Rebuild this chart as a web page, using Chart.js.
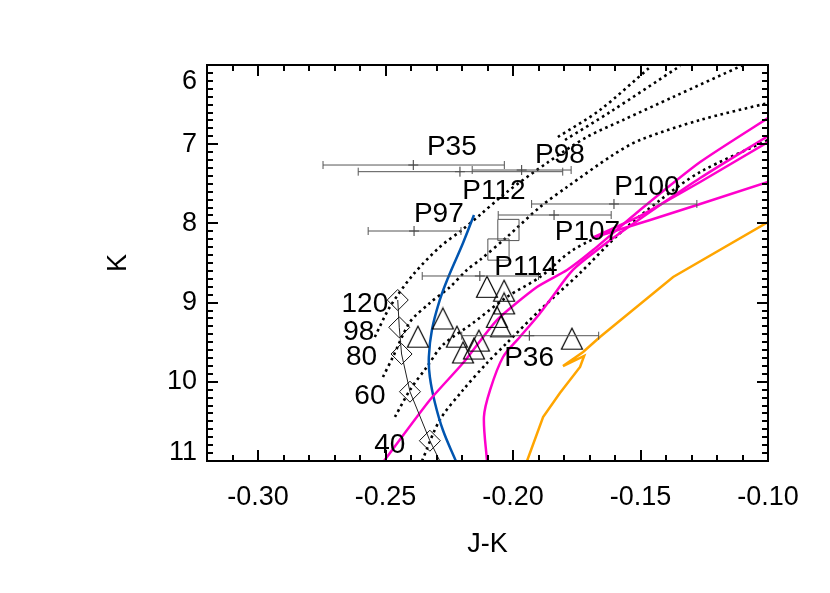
<!DOCTYPE html>
<html>
<head>
<meta charset="utf-8">
<script src="https://cdn.jsdelivr.net/npm/chart.js@4.4.1/dist/chart.umd.min.js"></script>
<style>
  html, body { margin: 0; padding: 0; background: #fff; }
  #wrap { width: 830px; height: 593px; }
</style>
</head>
<body>
<div id="wrap"><canvas id="cmd" width="830" height="593"></canvas></div>
<script>
// Axes
const xTicks = [-0.30, -0.25, -0.20, -0.15, -0.10];
const yTicks = [6, 7, 8, 9, 10, 11];

// Stars with J-K error bars
const starNames = ['P35', 'P112', 'P98', 'P97', 'P100', 'P107', 'P114', 'P36'];
const starJK   = [-0.2391, -0.2208, -0.1966, -0.2388, -0.1604, -0.1839, -0.2130, -0.1936];
const starK    = [7.263, 7.347, 7.326, 8.096, 7.755, 7.894, 8.664, 9.418];
const starJKlo = [-0.2745, -0.2607, -0.2160, -0.2568, -0.1927, -0.2058, -0.2356, -0.2201];
const starJKhi = [-0.2034, -0.1805, -0.1772, -0.2204, -0.1279, -0.1615, -0.1900, -0.1664];
// where the star names are written
const nameJK = [-0.2240, -0.2075, -0.1816, -0.2291, -0.1475, -0.1708, -0.1949, -0.1937];
const nameK  = [7.035, 7.591, 7.143, 7.881, 7.547, 8.115, 8.557, 9.699];

// Open triangles
const triJK = [-0.2102, -0.2035, -0.2035, -0.2063, -0.2047, -0.2275, -0.2373, -0.2220, -0.2196, -0.2134, -0.2153, -0.1769];
const triK  = [8.80, 8.85, 9.01, 9.18, 9.30, 9.20, 9.43, 9.43, 9.63, 9.48, 9.58, 9.455];

// Open squares
const sqJK = [-0.2018, -0.2057];
const sqK  = [8.083, 8.330];

// Mass track (diamonds)
const massNames = ['120', '98', '80', '60', '40'];
const massJK = [-0.2452, -0.2446, -0.2437, -0.2404, -0.2326];
const massK  = [8.967, 9.312, 9.649, 10.125, 10.744];
const massLabelJK = [-0.2581, -0.2605, -0.2594, -0.2561, -0.2483];
const massLabelK  = [9.018, 9.371, 9.693, 10.179, 10.798];
const trackJK = [-0.2452, -0.2446, -0.2437, -0.2404, -0.2326, -0.2287];
const trackK  = [8.967, 9.312, 9.649, 10.125, 10.744, 11.0];

// Dotted isochrones
const d1JK = [-0.2542, -0.2483, -0.2393, -0.2287, -0.2200, -0.2130, -0.2024, -0.1867, -0.1710, -0.1568, -0.1372, -0.1097];
const d1K  = [9.434, 9.056, 8.652, 8.298, 8.083, 7.894, 7.604, 7.237, 6.909, 6.694, 6.404, 6.0];
const d2JK = [-0.2510, -0.2471, -0.2404, -0.2326, -0.2247, -0.2181, -0.2130, -0.2024, -0.1894, -0.1788, -0.1608, -0.1502, -0.1266, -0.1000];
const d2K  = [9.939, 9.687, 9.245, 9.005, 8.803, 8.588, 8.462, 8.172, 7.793, 7.540, 7.136, 6.947, 6.694, 6.480];
const d3JK = [-0.2463, -0.2404, -0.2338, -0.2275, -0.2157, -0.2024, -0.1894, -0.1765, -0.1608];
const d3K  = [10.444, 10.104, 9.813, 9.535, 9.258, 8.929, 8.677, 8.336, 8.083];
const d4JK = [-0.2357, -0.2287, -0.2196, -0.2102, -0.2024, -0.1894, -0.1737, -0.1580, -0.1423, -0.1266, -0.1000];
const d4K  = [11.0, 10.482, 10.104, 9.763, 9.510, 9.093, 8.626, 8.121, 7.705, 7.351, 6.947];
const d5JK = [-0.1824, -0.1659, -0.1462];
const d5K  = [6.909, 6.568, 6.025];
const d6JK = [-0.1796, -0.1619, -0.1345];
const d6K  = [6.947, 6.593, 6.013];

// Blue track
const blueJK = [-0.2153, -0.2196, -0.2255, -0.2287, -0.2318, -0.2330, -0.2326, -0.2306, -0.2275, -0.2224];
const blueK  = [7.894, 8.247, 8.689, 8.967, 9.346, 9.687, 9.939, 10.268, 10.609, 11.0];

// Magenta tracks
const m1JK = [-0.2506, -0.2326, -0.2196, -0.2063, -0.1906, -0.1788, -0.1686, -0.1502, -0.1266, -0.1000];
const m1K  = [11.0, 10.230, 9.763, 9.220, 8.803, 8.588, 8.336, 7.831, 7.225, 6.669];
const m2JK = [-0.2102, -0.2114, -0.2090, -0.2039, -0.1973, -0.1906, -0.1855, -0.1765, -0.1670, -0.1580, -0.1423, -0.1266, -0.1000];
const m2K  = [11.0, 10.444, 10.104, 9.687, 9.434, 9.182, 8.967, 8.588, 8.336, 8.121, 7.768, 7.427, 6.896];
const m3JK = [-0.1000, -0.1266, -0.1502, -0.1690, -0.1462, -0.1266, -0.1000];
const m3K  = [6.972, 7.477, 7.907, 8.184, 7.957, 7.755, 7.477];

// Orange track
const orJK = [-0.1945, -0.1882, -0.1816, -0.1737, -0.1721, -0.1804, -0.1725, -0.1659, -0.1372, -0.1000];
const orK  = [11.0, 10.444, 10.141, 9.813, 9.674, 9.801, 9.624, 9.434, 8.677, 7.982];

const FONT = 'Liberation Sans, Arial, Helvetica, sans-serif';
const pts = (xs, ys) => xs.map((x, i) => ({ x: x, y: ys[i] }));

// open triangle a bit taller than an equilateral one
function triangleImage() {
    const c = document.createElement('canvas');
    c.width = 24; c.height = 24;
    const g = c.getContext('2d');
    g.strokeStyle = '#000';
    g.lineWidth = 1.2;
    g.beginPath();
    g.moveTo(12, 1.5);
    g.lineTo(22.5, 22.5);
    g.lineTo(1.5, 22.5);
    g.closePath();
    g.stroke();
    return c;
}

function curve(xs, ys, color, width, dash, tension) {
    return {
        data: pts(xs, ys),
        showLine: true,
        borderColor: color,
        borderWidth: width,
        borderDash: dash || [],
        borderCapStyle: 'butt',
        tension: tension || 0,
        pointRadius: 0,
        fill: false
    };
}

function markers(xs, ys, style, radius, color) {
    return {
        data: pts(xs, ys),
        showLine: false,
        pointStyle: style,
        pointRadius: radius,
        pointBorderColor: color,
        borderColor: color,
        pointBackgroundColor: 'rgba(0,0,0,0)',
        backgroundColor: 'rgba(0,0,0,0)',
        pointBorderWidth: 1
    };
}

const datasets = [];

// error bars and star crosses
starJK.forEach((v, i) => {
    datasets.push({
        data: [{ x: starJKlo[i], y: starK[i] }, { x: starJKhi[i], y: starK[i] }],
        showLine: true,
        borderColor: '#555',
        borderWidth: 1,
        pointStyle: 'line',
        pointRotation: 90,
        pointRadius: 4,
        pointBorderColor: '#555',
        pointBorderWidth: 1
    });
});
datasets.push(markers(starJK, starK, 'cross', 5, '#333'));

datasets.push(markers(triJK, triK, triangleImage(), 12, '#000'));
datasets.push(markers(sqJK, sqK, 'rect', 15, '#555'));
datasets.push(markers(massJK, massK, 'rectRot', 10.5, '#111'));
datasets.push(curve(trackJK, trackK, '#222', 1));

// coloured tracks
datasets.push(curve(orJK, orK, '#ffa500', 2.5));
datasets.push(curve(m1JK, m1K, '#ff00cc', 2.5, null, 0.2));
datasets.push(curve(m2JK, m2K, '#ff00cc', 2.5, null, 0.3));
datasets.push(curve(m3JK, m3K, '#ff00cc', 2.5));
datasets.push(curve(blueJK, blueK, '#0055b0', 2.5, null, 0.4));

// dotted isochrones
[[d1JK, d1K], [d2JK, d2K], [d3JK, d3K], [d4JK, d4K], [d5JK, d5K], [d6JK, d6K]].forEach(d => {
    datasets.push(curve(d[0], d[1], '#000', 2.6, [2.6, 3.6], 0.3));
});

// Ticks inside the frame on all four sides, the frame itself, and the names
const frame = {
    id: 'frame',
    afterDraw(chart) {
        const { ctx, chartArea: a, scales } = chart;
        const sx = scales.x, sy = scales.y;
        ctx.save();
        ctx.setLineDash([]);
        ctx.lineCap = 'butt';
        ctx.strokeStyle = '#000';
        ctx.lineWidth = 2;
        for (let k = -32; k <= -10; k++) {
            const px = Math.round(sx.getPixelForValue(k / 100));
            const len = (k % 5 === 0) ? 11 : 6;
            ctx.beginPath();
            ctx.moveTo(px, a.bottom); ctx.lineTo(px, a.bottom - len);
            ctx.moveTo(px, a.top); ctx.lineTo(px, a.top + len);
            ctx.stroke();
        }
        for (let k = 60; k <= 110; k++) {
            const py = Math.round(sy.getPixelForValue(k / 10));
            const len = (k % 10 === 0) ? 11 : 6;
            ctx.beginPath();
            ctx.moveTo(a.left, py); ctx.lineTo(a.left + len, py);
            ctx.moveTo(a.right, py); ctx.lineTo(a.right - len, py);
            ctx.stroke();
        }
        ctx.strokeRect(a.left, a.top, a.right - a.left, a.bottom - a.top);

        ctx.fillStyle = '#000';
        ctx.font = '28px ' + FONT;
        ctx.textAlign = 'center';
        ctx.textBaseline = 'middle';
        starNames.forEach((s, i) => {
            ctx.fillText(s, sx.getPixelForValue(nameJK[i]), sy.getPixelForValue(nameK[i]));
        });
        massNames.forEach((s, i) => {
            ctx.fillText(s, sx.getPixelForValue(massLabelJK[i]), sy.getPixelForValue(massLabelK[i]));
        });
        ctx.restore();
    }
};

Chart.defaults.color = '#000';
Chart.defaults.font.family = FONT;

new Chart(document.getElementById('cmd'), {
    type: 'scatter',
    data: { datasets: datasets },
    options: {
        responsive: false,
        animation: false,
        layout: { padding: { left: 0, top: 65, right: 62, bottom: 0 } },
        plugins: { legend: { display: false }, tooltip: { enabled: false } },
        scales: {
            x: {
                type: 'linear',
                min: -0.32,
                max: -0.10,
                afterBuildTicks: s => { s.ticks = xTicks.map(v => ({ value: v })); },
                afterFit: s => { s.height = 132; },
                grid: { display: false, drawTicks: false },
                border: { display: false },
                ticks: {
                    padding: 20,
                    maxRotation: 0,
                    font: { size: 27 },
                    callback: v => v.toFixed(2)
                },
                title: { display: true, text: 'J-K', font: { size: 27 }, padding: { top: 0, bottom: 32 } }
            },
            y: {
                type: 'linear',
                reverse: true,
                min: 6,
                max: 11,
                afterBuildTicks: s => { s.ticks = yTicks.map(v => ({ value: v })); },
                afterFit: s => { s.width = 207; },
                grid: { display: false, drawTicks: false },
                border: { display: false },
                ticks: {
                    padding: 10,
                    // end labels sit inside the frame, as in the original plot
                    font: c => ({ size: 27, lineHeight: (c.tick && c.tick.value === 11) ? 0.63 : 1.2 }),
                    callback: v => v === 6 ? ['', '6'] : (v === 11 ? ['11', ''] : String(v))
                },
                title: { display: true, text: 'K', font: { size: 27 }, padding: { top: 102, bottom: 0 } }
            }
        }
    },
    plugins: [frame]
});
</script>
</body>
</html>
